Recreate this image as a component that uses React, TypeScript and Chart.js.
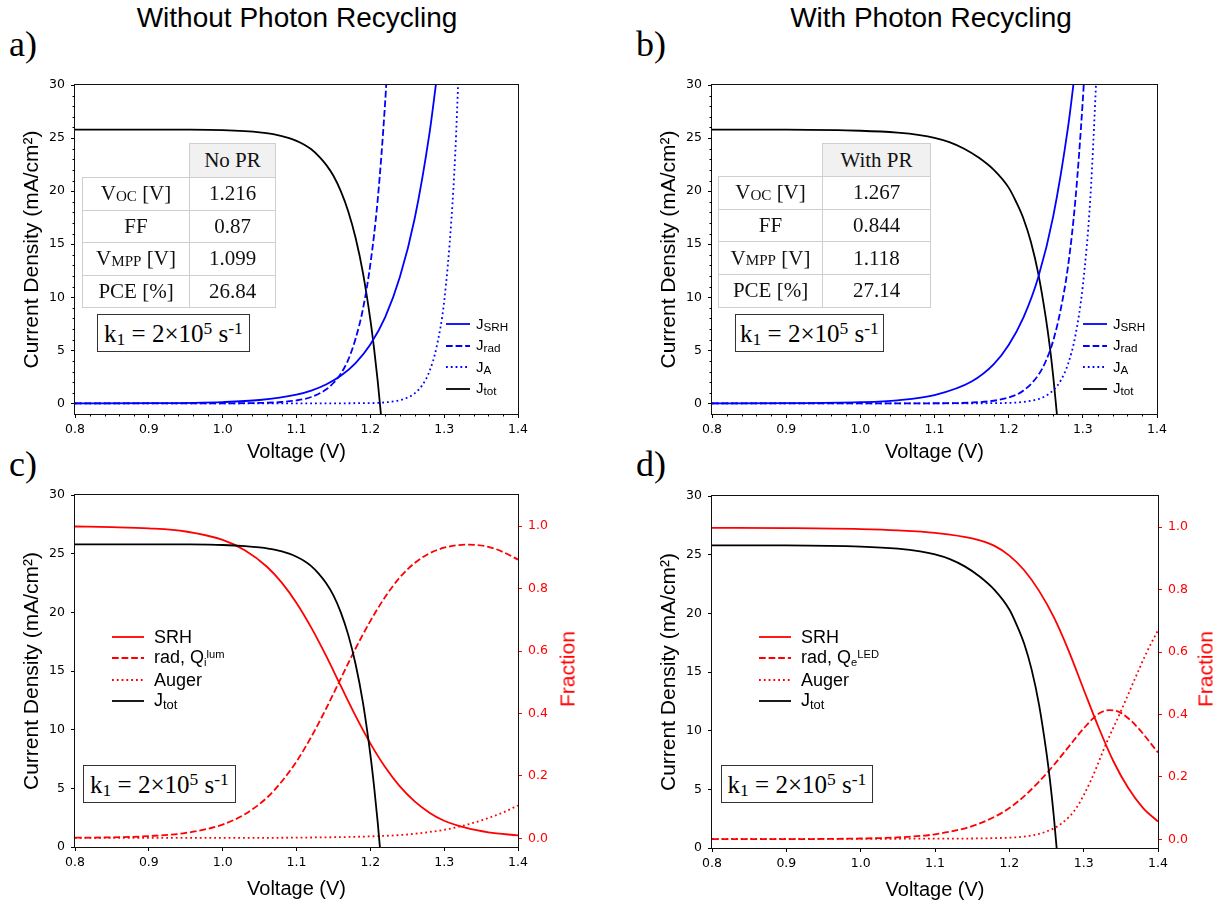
import React, { useEffect, useRef } from 'react';
import { Chart, registerables } from 'chart.js';

Chart.register(...registerables);

const SANS = '"Liberation Sans", Arial, Helvetica, sans-serif';
const SERIF = '"Liberation Serif", "Times New Roman", Times, serif';
const TICK_FONT = '"DejaVu Sans", sans-serif';
const BLUE = '#0000ff';
const RED = '#ff0000';
const BLACK = '#000000';

// ---------------- tick values & labels ----------------
const voltageTicks = [0.8, 0.9, 1.0, 1.1, 1.2, 1.3, 1.4];
const voltageTickLabels = ['0.8', '0.9', '1.0', '1.1', '1.2', '1.3', '1.4'];
const currentTicks = [0, 5, 10, 15, 20, 25, 30];
const currentTickLabels = ['0', '5', '10', '15', '20', '25', '30'];
const fractionTicks = [0, 0.2, 0.4, 0.6, 0.8, 1.0];
const fractionTickLabels = ['0.0', '0.2', '0.4', '0.6', '0.8', '1.0'];

// ---------------- panel a / c : without photon recycling ----------------
const vTotNoPR = [0.8, 0.9, 0.95, 1.0, 1.03, 1.05, 1.07, 1.09, 1.1, 1.11, 1.12, 1.13, 1.14, 1.15, 1.16, 1.17, 1.18, 1.19, 1.2, 1.205, 1.21, 1.215];
const jTotNoPR = [25.8, 25.8, 25.79, 25.74, 25.65, 25.54, 25.35, 25.0, 24.74, 24.4, 23.94, 23.3, 22.5, 21.45, 20.0, 18.1, 15.6, 12.3, 7.9, 5.2, 2.1, -1.5];

const vSrhNoPR = [0.8, 0.9, 1.0, 1.05, 1.1, 1.12, 1.14, 1.16, 1.18, 1.2, 1.22, 1.24, 1.26, 1.28, 1.29];
const jSrhNoPR = [0.003, 0.018, 0.124, 0.32, 0.83, 1.21, 1.78, 2.6, 3.8, 5.55, 8.1, 11.9, 17.4, 25.4, 30.7];

const vRadNoPR = [0.8, 0.9, 1.0, 1.05, 1.08, 1.1, 1.12, 1.14, 1.15, 1.16, 1.17, 1.18, 1.19, 1.2, 1.21, 1.22, 1.225];
const jRadNoPR = [0.0, 0.0, 0.006, 0.04, 0.13, 0.28, 0.6, 1.3, 1.92, 2.8, 4.1, 6.1, 8.9, 13.1, 19.2, 28.3, 34.3];

const vAugNoPR = [0.8, 1.1, 1.2, 1.22, 1.24, 1.25, 1.26, 1.27, 1.28, 1.29, 1.3, 1.31, 1.315, 1.32];
const jAugNoPR = [0.0, 0.002, 0.029, 0.093, 0.3, 0.53, 0.94, 1.68, 3.0, 5.4, 9.6, 17.5, 23.5, 32.0];

const vSrhFracNoPR = [0.8, 0.85, 0.9, 0.95, 1.0, 1.03, 1.06, 1.08, 1.1, 1.12, 1.14, 1.16, 1.18, 1.2, 1.22, 1.24, 1.26, 1.28, 1.3, 1.33, 1.36, 1.4];
const srhFracNoPR = [0.999, 0.997, 0.993, 0.983, 0.956, 0.923, 0.87, 0.819, 0.754, 0.675, 0.585, 0.488, 0.392, 0.304, 0.228, 0.166, 0.118, 0.082, 0.056, 0.033, 0.019, 0.009];

const vRadFracNoPR = [0.8, 0.85, 0.9, 0.95, 1.0, 1.03, 1.06, 1.08, 1.1, 1.12, 1.14, 1.16, 1.18, 1.2, 1.22, 1.24, 1.26, 1.28, 1.3, 1.33, 1.36, 1.38, 1.4];
const radFracNoPR = [0.002, 0.003, 0.007, 0.017, 0.044, 0.077, 0.13, 0.182, 0.246, 0.325, 0.415, 0.512, 0.608, 0.696, 0.773, 0.836, 0.882, 0.913, 0.931, 0.941, 0.934, 0.917, 0.893];

const vAugFracNoPR = [0.8, 1.0, 1.1, 1.2, 1.25, 1.28, 1.3, 1.33, 1.36, 1.38, 1.4];
const augFracNoPR = [0.001, 0.001, 0.002, 0.006, 0.012, 0.02, 0.027, 0.043, 0.065, 0.083, 0.105];

// ---------------- panel b / d : with photon recycling ----------------
const vTotPR = [0.8, 0.9, 1.0, 1.05, 1.08, 1.1, 1.12, 1.14, 1.16, 1.18, 1.2, 1.21, 1.22, 1.23, 1.24, 1.25, 1.255, 1.26, 1.265];
const jTotPR = [25.8, 25.79, 25.69, 25.51, 25.28, 25.02, 24.62, 24.0, 23.14, 22.0, 20.33, 19.0, 17.4, 15.2, 12.2, 8.1, 5.6, 2.6, -1.0];

const vSrhPR = [0.8, 0.9, 1.0, 1.05, 1.1, 1.15, 1.18, 1.2, 1.22, 1.24, 1.26, 1.28, 1.29];
const jSrhPR = [0.003, 0.016, 0.11, 0.29, 0.78, 2.06, 3.7, 5.5, 8.1, 11.9, 17.6, 26.0, 31.6];

const vRadPR = [0.8, 1.0, 1.1, 1.15, 1.2, 1.22, 1.24, 1.25, 1.26, 1.27, 1.28, 1.29, 1.3, 1.303];
const jRadPR = [0.0, 0.0, 0.011, 0.076, 0.55, 1.21, 2.67, 3.97, 5.9, 8.8, 12.9, 19.2, 28.6, 32.2];

const vAugPR = [0.8, 1.1, 1.2, 1.22, 1.24, 1.25, 1.26, 1.27, 1.28, 1.29, 1.3, 1.31, 1.32];
const jAugPR = [0.0, 0.0, 0.045, 0.14, 0.41, 0.71, 1.23, 2.13, 3.7, 6.4, 11.1, 19.2, 33.3];

const vSrhFracPR = [0.8, 0.9, 1.0, 1.05, 1.1, 1.15, 1.18, 1.2, 1.22, 1.24, 1.26, 1.28, 1.3, 1.32, 1.34, 1.36, 1.38, 1.4];
const srhFracPR = [0.998, 0.997, 0.994, 0.99, 0.982, 0.964, 0.94, 0.909, 0.862, 0.796, 0.711, 0.603, 0.48, 0.359, 0.25, 0.164, 0.1, 0.057];

const vRadFracPR = [0.8, 0.9, 1.0, 1.05, 1.1, 1.15, 1.18, 1.2, 1.22, 1.24, 1.26, 1.28, 1.3, 1.32, 1.335, 1.35, 1.37, 1.4];
const radFracPR = [0.0002, 0.0004, 0.0025, 0.006, 0.016, 0.042, 0.072, 0.1, 0.138, 0.185, 0.238, 0.297, 0.355, 0.402, 0.414, 0.405, 0.365, 0.278];

const vAugFracPR = [0.8, 1.1, 1.2, 1.23, 1.25, 1.27, 1.29, 1.31, 1.33, 1.35, 1.37, 1.385, 1.4];
const augFracPR = [0.001, 0.002, 0.005, 0.012, 0.025, 0.05, 0.1, 0.19, 0.305, 0.41, 0.52, 0.6, 0.67];

// ---------------- table values ----------------
const noPRValues = ['1.216', '0.87', '1.099', '26.84'];
const withPRValues = ['1.267', '0.844', '1.118', '27.14'];

// minor tick positions (panels a, b)
const minorVoltage: number[] = [];
for (let k = 40; k <= 70; k++) if (k % 5 !== 0) minorVoltage.push(k * 0.02);
const minorCurrent: number[] = [];
for (let k = 0; k <= 30; k++) if (k % 5 !== 0) minorCurrent.push(k);

// ---------------- plugins ----------------
const framePlugin = {
  id: 'frame',
  afterDatasetsDraw(chart: any) {
    const { ctx, chartArea: a } = chart;
    ctx.save();
    ctx.strokeStyle = '#111';
    ctx.lineWidth = 1;
    ctx.strokeRect(Math.round(a.left) - 0.5, Math.round(a.top) - 0.5, Math.round(a.right - a.left) + 1, Math.round(a.bottom - a.top) + 1);
    ctx.restore();
  },
};

const minorTicksPlugin = {
  id: 'minorTicks',
  afterDraw(chart: any, _args: any, opts: any) {
    if (!opts || !opts.x) return;
    const { ctx, chartArea: a, scales } = chart;
    ctx.save();
    ctx.strokeStyle = BLACK;
    ctx.lineWidth = 1;
    ctx.beginPath();
    for (const v of opts.x) {
      const px = Math.round(scales.x.getPixelForValue(v)) + 0.5;
      ctx.moveTo(px, a.bottom);
      ctx.lineTo(px, a.bottom + 2.5);
    }
    for (const v of opts.y) {
      const py = Math.round(scales.y.getPixelForValue(v)) + 0.5;
      ctx.moveTo(a.left, py);
      ctx.lineTo(a.left - 2.5, py);
    }
    ctx.stroke();
    ctx.restore();
  },
};

// ---------------- helpers ----------------
function lineDs(xs: number[], ys: number[], color: string, dash: number[], yAxisID = 'y') {
  return {
    data: xs.map((x, i) => ({ x, y: ys[i] })),
    borderColor: color,
    backgroundColor: color,
    borderWidth: 1.8,
    borderDash: dash,
    borderCapStyle: 'butt',
    pointRadius: 0,
    fill: false,
    cubicInterpolationMode: 'monotone',
    yAxisID,
  };
}
const SOLID: number[] = [];
const DASHED = [6.7, 2.9];
const DOTTED = [1.8, 3.0];

function voltageAxis(height: number, titlePad: number) {
  return {
    type: 'linear',
    position: 'bottom',
    min: 0.8,
    max: 1.4,
    afterBuildTicks: (s: any) => {
      s.ticks = voltageTicks.map((v) => ({ value: v }));
    },
    afterFit: (s: any) => {
      s.height = height;
    },
    grid: { display: true, drawOnChartArea: false, drawTicks: true, tickLength: 4, tickColor: BLACK },
    border: { display: false },
    ticks: {
      callback: (_v: any, i: number) => voltageTickLabels[i],
      color: BLACK,
      font: { family: TICK_FONT, size: 12.5 },
      padding: 4,
      autoSkip: false,
      maxRotation: 0,
      minRotation: 0,
    },
    title: {
      display: true,
      text: 'Voltage (V)',
      color: BLACK,
      font: { family: SANS, size: 20 },
      padding: { top: 0, bottom: titlePad },
    },
  };
}

function currentAxis(min: number, max: number, width: number, titlePad: number) {
  return {
    type: 'linear',
    position: 'left',
    min,
    max,
    afterBuildTicks: (s: any) => {
      s.ticks = currentTicks.map((v) => ({ value: v }));
    },
    afterFit: (s: any) => {
      s.width = width;
    },
    grid: { display: true, drawOnChartArea: false, drawTicks: true, tickLength: 4, tickColor: BLACK },
    border: { display: false },
    ticks: {
      callback: (_v: any, i: number) => currentTickLabels[i],
      color: BLACK,
      font: { family: TICK_FONT, size: 12.5 },
      padding: 6,
      autoSkip: false,
    },
    title: {
      display: true,
      text: 'Current Density (mA/cm²)',
      color: BLACK,
      font: { family: SANS, size: 21 },
      padding: { top: titlePad, bottom: 0 },
    },
  };
}

function fractionAxis(width: number) {
  return {
    type: 'linear',
    position: 'right',
    min: -0.028,
    max: 1.1,
    afterBuildTicks: (s: any) => {
      s.ticks = fractionTicks.map((v) => ({ value: v }));
    },
    afterFit: (s: any) => {
      s.width = width;
    },
    grid: { display: true, drawOnChartArea: false, drawTicks: true, tickLength: 4, tickColor: RED },
    border: { display: false },
    ticks: {
      callback: (_v: any, i: number) => fractionTickLabels[i],
      color: RED,
      font: { family: TICK_FONT, size: 12.5 },
      padding: 6,
      autoSkip: false,
    },
    title: { display: false },
  };
}

function baseOptions(padding: any) {
  return {
    responsive: false,
    animation: false,
    devicePixelRatio: 1,
    events: [],
    layout: { padding },
  };
}

function jvConfig(datasets: any[], rightPad: number) {
  return {
    type: 'line',
    data: { datasets },
    options: {
      ...baseOptions({ left: 0, top: 15, right: rightPad, bottom: 0 }),
      plugins: {
        legend: { display: false },
        tooltip: { enabled: false },
        minorTicks: { x: minorVoltage, y: minorCurrent },
      },
      scales: {
        x: voltageAxis(56, 6),
        y: currentAxis(-1, 30, 75, 20),
      },
    },
    plugins: [framePlugin, minorTicksPlugin],
  };
}

function fracConfig(datasets: any[], top: number, xHeight: number, rightWidth: number, titlePad: number) {
  return {
    type: 'line',
    data: { datasets },
    options: {
      ...baseOptions({ left: 0, top, right: 0, bottom: 0 }),
      plugins: { legend: { display: false }, tooltip: { enabled: false } },
      scales: {
        x: voltageAxis(xHeight, titlePad),
        y: currentAxis(0, 30, 75, 20),
        y1: fractionAxis(rightWidth),
      },
    },
    plugins: [framePlugin],
  };
}

function ChartCanvas({ left, top, width, height, make }: any) {
  const ref = useRef<HTMLCanvasElement>(null);
  useEffect(() => {
    const chart = new Chart(ref.current as HTMLCanvasElement, make());
    return () => chart.destroy();
  }, []);
  return (
    <canvas
      ref={ref}
      width={width}
      height={height}
      style={{ position: 'absolute', left, top, width, height, display: 'block' }}
    />
  );
}

// ---------------- HTML overlays ----------------
const Sub = ({ children, size = '0.7em', drop = '0.18em' }: any) => (
  <span style={{ fontSize: size, position: 'relative', top: drop }}>{children}</span>
);
const Sup = ({ children, size = '0.7em', rise = '-0.45em' }: any) => (
  <span style={{ fontSize: size, position: 'relative', top: rise }}>{children}</span>
);

const tableLabels = [
  <span>V<Sub size="0.72em" drop="0.05em">OC</Sub> [V]</span>,
  <span>FF</span>,
  <span>V<Sub size="0.72em" drop="0.05em">MPP</Sub> [V]</span>,
  <span>PCE [%]</span>,
];

function StatTable({ left, top, labelW, valueW, headH, rowH, header, values }: any) {
  const line = '#cfcfcf';
  const cell = (l: number, t: number, w: number, h: number, content: any, bg = '#fff', key?: any) => (
    <div
      key={key}
      style={{
        position: 'absolute',
        left: l,
        top: t,
        width: w + 1,
        height: h + 1,
        boxSizing: 'border-box',
        border: `1px solid ${line}`,
        background: bg,
        display: 'flex',
        alignItems: 'center',
        justifyContent: 'center',
        fontFamily: SERIF,
        fontSize: 21,
        color: '#111',
        whiteSpace: 'nowrap',
        lineHeight: 1,
      }}
    >
      {content}
    </div>
  );
  return (
    <>
      {cell(left + labelW, top, valueW, headH, header, '#f1f1f1', 'h')}
      {values.map((v: string, i: number) => (
        <React.Fragment key={i}>
          {cell(left, top + headH + i * rowH, labelW, rowH, tableLabels[i], '#fff', 'l' + i)}
          {cell(left + labelW, top + headH + i * rowH, valueW, rowH, v, '#fff', 'v' + i)}
        </React.Fragment>
      ))}
    </>
  );
}

function KBox({ left, top, width, height }: any) {
  return (
    <div
      style={{
        position: 'absolute',
        left,
        top,
        width,
        height,
        boxSizing: 'border-box',
        border: '1px solid #333',
        background: '#fff',
        display: 'flex',
        alignItems: 'center',
        justifyContent: 'center',
        fontFamily: SERIF,
        fontSize: 25,
        color: '#000',
        whiteSpace: 'nowrap',
        lineHeight: 1,
      }}
    >
      <span>
        k<Sub>1</Sub> = 2×10<Sup>5</Sup> s<Sup>-1</Sup>
      </span>
    </div>
  );
}

function LegendRow({ x, y, lineLen, color, dash, gap, fontSize, children }: any) {
  return (
    <div
      style={{
        position: 'absolute',
        left: x,
        top: y - 11,
        height: 22,
        display: 'flex',
        alignItems: 'center',
        whiteSpace: 'nowrap',
        fontFamily: SANS,
        fontSize,
        lineHeight: '22px',
        color: '#000',
      }}
    >
      <svg width={lineLen} height={6} style={{ display: 'block', marginRight: gap }}>
        <line
          x1={0}
          y1={3}
          x2={lineLen}
          y2={3}
          stroke={color}
          strokeWidth={1.8}
          strokeDasharray={dash.length ? dash.join(' ') : undefined}
        />
      </svg>
      <span>{children}</span>
    </div>
  );
}

function JLegend({ x, y0 }: any) {
  const rows = [
    { color: BLUE, dash: SOLID, sub: 'SRH' },
    { color: BLUE, dash: DASHED, sub: 'rad' },
    { color: BLUE, dash: DOTTED, sub: 'A' },
    { color: BLACK, dash: SOLID, sub: 'tot' },
  ];
  return (
    <>
      {rows.map((r, i) => (
        <LegendRow key={i} x={x} y={y0 + i * 21.5} lineLen={24} color={r.color} dash={r.dash} gap={6} fontSize={15}>
          J<Sub size="0.78em" drop="0.2em">{r.sub}</Sub>
        </LegendRow>
      ))}
    </>
  );
}

function FracLegend({ x, y0, radLabel }: any) {
  return (
    <>
      <LegendRow x={x} y={y0} lineLen={32} color={RED} dash={SOLID} gap={10} fontSize={18}>SRH</LegendRow>
      <LegendRow x={x} y={y0 + 21.4} lineLen={32} color={RED} dash={DASHED} gap={10} fontSize={18}>{radLabel}</LegendRow>
      <LegendRow x={x} y={y0 + 42.8} lineLen={32} color={RED} dash={DOTTED} gap={10} fontSize={18}>Auger</LegendRow>
      <LegendRow x={x} y={y0 + 64.2} lineLen={32} color={BLACK} dash={SOLID} gap={10} fontSize={18}>
        J<Sub size="0.72em" drop="0.2em">tot</Sub>
      </LegendRow>
    </>
  );
}

function Rotated({ cx, cy, size, color, children }: any) {
  return (
    <div
      style={{
        position: 'absolute',
        left: cx,
        top: cy,
        transform: 'translate(-50%, -50%) rotate(-90deg)',
        fontFamily: SANS,
        fontSize: size,
        color,
        whiteSpace: 'nowrap',
        lineHeight: 1,
      }}
    >
      {children}
    </div>
  );
}

function PanelLabel({ x, y, text }: any) {
  return (
    <div style={{ position: 'absolute', left: x, top: y, fontFamily: SERIF, fontSize: 36, lineHeight: '40px', color: '#000' }}>
      {text}
    </div>
  );
}

function Title({ cx, text }: any) {
  return (
    <div
      style={{
        position: 'absolute',
        left: cx - 300,
        width: 600,
        top: 2,
        textAlign: 'center',
        fontFamily: SANS,
        fontSize: 28,
        lineHeight: '32px',
        color: '#000',
      }}
    >
      {text}
    </div>
  );
}

export default function App() {
  const makeA = () =>
    jvConfig(
      [
        lineDs(vSrhNoPR, jSrhNoPR, BLUE, SOLID),
        lineDs(vRadNoPR, jRadNoPR, BLUE, DASHED),
        lineDs(vAugNoPR, jAugNoPR, BLUE, DOTTED),
        lineDs(vTotNoPR, jTotNoPR, BLACK, SOLID),
      ],
      42
    );
  const makeB = () =>
    jvConfig(
      [
        lineDs(vSrhPR, jSrhPR, BLUE, SOLID),
        lineDs(vRadPR, jRadPR, BLUE, DASHED),
        lineDs(vAugPR, jAugPR, BLUE, DOTTED),
        lineDs(vTotPR, jTotPR, BLACK, SOLID),
      ],
      40
    );
  const makeC = () =>
    fracConfig(
      [
        lineDs(vTotNoPR, jTotNoPR, BLACK, SOLID, 'y'),
        lineDs(vSrhFracNoPR, srhFracNoPR, RED, SOLID, 'y1'),
        lineDs(vRadFracNoPR, radFracNoPR, RED, DASHED, 'y1'),
        lineDs(vAugFracNoPR, augFracNoPR, RED, DOTTED, 'y1'),
      ],
      15,
      58,
      82,
      4
    );
  const makeD = () =>
    fracConfig(
      [
        lineDs(vTotPR, jTotPR, BLACK, SOLID, 'y'),
        lineDs(vSrhFracPR, srhFracPR, RED, SOLID, 'y1'),
        lineDs(vRadFracPR, radFracPR, RED, DASHED, 'y1'),
        lineDs(vAugFracPR, augFracPR, RED, DOTTED, 'y1'),
      ],
      16,
      57,
      63,
      3
    );

  return (
    <div
      style={{
        position: 'absolute',
        left: 0,
        top: 0,
        width: 1221,
        height: 905,
        background: '#fff',
        overflow: 'hidden',
      }}
    >
      <Title cx={297} text="Without Photon Recycling" />
      <Title cx={931} text="With Photon Recycling" />
      <PanelLabel x={9} y={24} text="a)" />
      <PanelLabel x={636} y={24} text="b)" />
      <PanelLabel x={9} y={444} text="c)" />
      <PanelLabel x={636} y={444} text="d)" />

      <ChartCanvas left={0} top={70} width={560} height={400} make={makeA} />
      <ChartCanvas left={637} top={70} width={560} height={400} make={makeB} />
      <ChartCanvas left={0} top={480} width={600} height={425} make={makeC} />
      <ChartCanvas left={637} top={480} width={584} height={425} make={makeD} />

      <StatTable left={82} top={143} labelW={107} valueW={86} headH={34} rowH={32.6} header="No PR" values={noPRValues} />
      <StatTable left={718} top={143} labelW={104} valueW={108} headH={33} rowH={32.7} header="With PR" values={withPRValues} />

      <KBox left={97} top={314} width={153} height={38} />
      <KBox left={735} top={314} width={149} height={38} />
      <KBox left={83} top={765} width={153} height={38} />
      <KBox left={721} top={765} width={152} height={38} />

      <JLegend x={446} y0={324} />
      <JLegend x={1083} y0={324} />

      <FracLegend
        x={112}
        y0={637}
        radLabel={
          <span>
            rad, Q<Sub size="0.62em" drop="0.2em">i</Sub>
            <Sup size="0.62em" rise="-0.5em">lum</Sup>
          </span>
        }
      />
      <FracLegend
        x={759}
        y0={637}
        radLabel={
          <span>
            rad, Q<Sub size="0.62em" drop="0.2em">e</Sub>
            <Sup size="0.62em" rise="-0.5em">LED</Sup>
          </span>
        }
      />

      <Rotated cx={567} cy={669} size={21} color={RED}>Fraction</Rotated>
      <Rotated cx={1205} cy={669} size={21} color={RED}>Fraction</Rotated>
    </div>
  );
}
